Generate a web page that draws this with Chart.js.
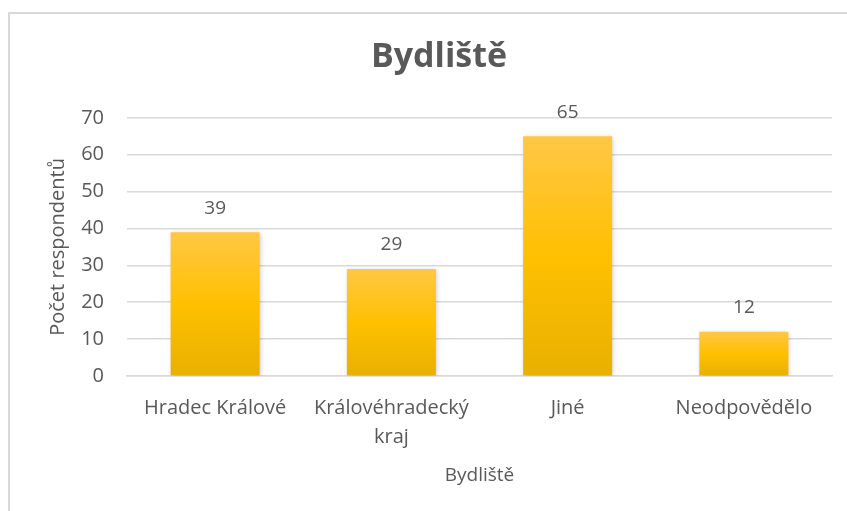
<!DOCTYPE html>
<html>
<head>
<meta charset="utf-8">
<script src="https://cdn.jsdelivr.net/npm/chart.js@4/dist/chart.umd.min.js"></script>
<style>
body { margin: 0; background: #fff; overflow: hidden; }
#frame { position: absolute; left: 8px; top: 12px; width: 900px; height: 600px; border: 2px solid #d9d9d9; }
#wrap { position: absolute; left: 0; top: 0; width: 847px; height: 511px; }
</style>
</head>
<body>
<div id="frame"></div>
<div id="wrap"><canvas id="bydliste"></canvas></div>
<script>
var categories = ['Hradec Králové', ['Královéhradecký', 'kraj'], 'Jiné', 'Neodpovědělo'];
var counts = [39, 29, 65, 12];
var yTicks = [0, 10, 20, 30, 40, 50, 60, 70];
var textColor = '#595959';
var fontName = '"Open Sans", sans-serif';

function barGradient(context) {
    var chart = context.chart;
    if (!chart.chartArea || !chart.scales.y) return '#FFC000';
    var y = chart.scales.y;
    var top = y.getPixelForValue(context.raw);
    var bottom = y.getPixelForValue(0);
    var g = chart.ctx.createLinearGradient(0, top, 0, bottom);
    g.addColorStop(0, '#FFC745');
    g.addColorStop(0.5, '#FFC000');
    g.addColorStop(1, '#E8B000');
    return g;
}

var barShadow = {
    id: 'barShadow',
    beforeDatasetsDraw: function(chart) {
        var ctx = chart.ctx;
        ctx.save();
        ctx.shadowColor = 'rgba(0,0,0,0.22)';
        ctx.shadowBlur = 5;
        ctx.shadowOffsetX = 1;
        ctx.shadowOffsetY = 1;
    },
    afterDatasetsDraw: function(chart) {
        chart.ctx.restore();
    }
};

var valueLabels = {
    id: 'valueLabels',
    afterDraw: function(chart) {
        var ctx = chart.ctx;
        var meta = chart.getDatasetMeta(0);
        ctx.save();
        ctx.font = '19px ' + fontName;
        ctx.fillStyle = textColor;
        ctx.textAlign = 'center';
        ctx.textBaseline = 'middle';
        meta.data.forEach(function(bar, i) {
            ctx.fillText(counts[i], bar.x, bar.y - 24);
        });
        ctx.restore();
    }
};

var ctx = document.getElementById('bydliste').getContext('2d');
new Chart(ctx, {
    type: 'bar',
    data: {
        labels: categories,
        datasets: [{
            label: 'Počet respondentů',
            data: counts,
            backgroundColor: barGradient,
            barPercentage: 0.505,
            categoryPercentage: 1
        }]
    },
    options: {
        responsive: true,
        maintainAspectRatio: false,
        animation: false,
        layout: { padding: { left: 46, right: 15, top: 0, bottom: 24 } },
        plugins: {
            legend: { display: false },
            tooltip: { enabled: false },
            title: {
                display: true,
                text: 'Bydliště',
                color: textColor,
                font: { family: fontName, size: 34, weight: 'bold', lineHeight: 1.2 },
                padding: { top: 37, bottom: 40 }
            }
        },
        scales: {
            x: {
                afterFit: function(axis) { axis.height = 111; },
                grid: { display: false, drawTicks: false },
                border: { color: '#d9d9d9', width: 1.5 },
                ticks: { color: textColor, font: { family: fontName, size: 20, lineHeight: 1.45 }, padding: 18, maxRotation: 0 },
                title: { display: true, text: 'Bydliště', color: textColor, font: { family: fontName, size: 19, lineHeight: 1.2 }, padding: { top: 14, bottom: 0 } }
            },
            y: {
                min: 0,
                max: 70,
                afterFit: function(axis) { axis.width = 81; },
                afterBuildTicks: function(axis) {
                    axis.ticks = yTicks.map(function(v) { return { value: v }; });
                },
                grid: { color: '#d9d9d9', lineWidth: 1.5, drawTicks: false },
                border: { display: false },
                ticks: { color: textColor, font: { family: fontName, size: 20 }, padding: 23 },
                title: { display: true, text: 'Počet respondentů', color: textColor, font: { family: fontName, size: 20, lineHeight: 1.2 }, padding: { top: 0, bottom: 11 } }
            }
        }
    },
    plugins: [barShadow, valueLabels]
});
</script>
</body>
</html>
